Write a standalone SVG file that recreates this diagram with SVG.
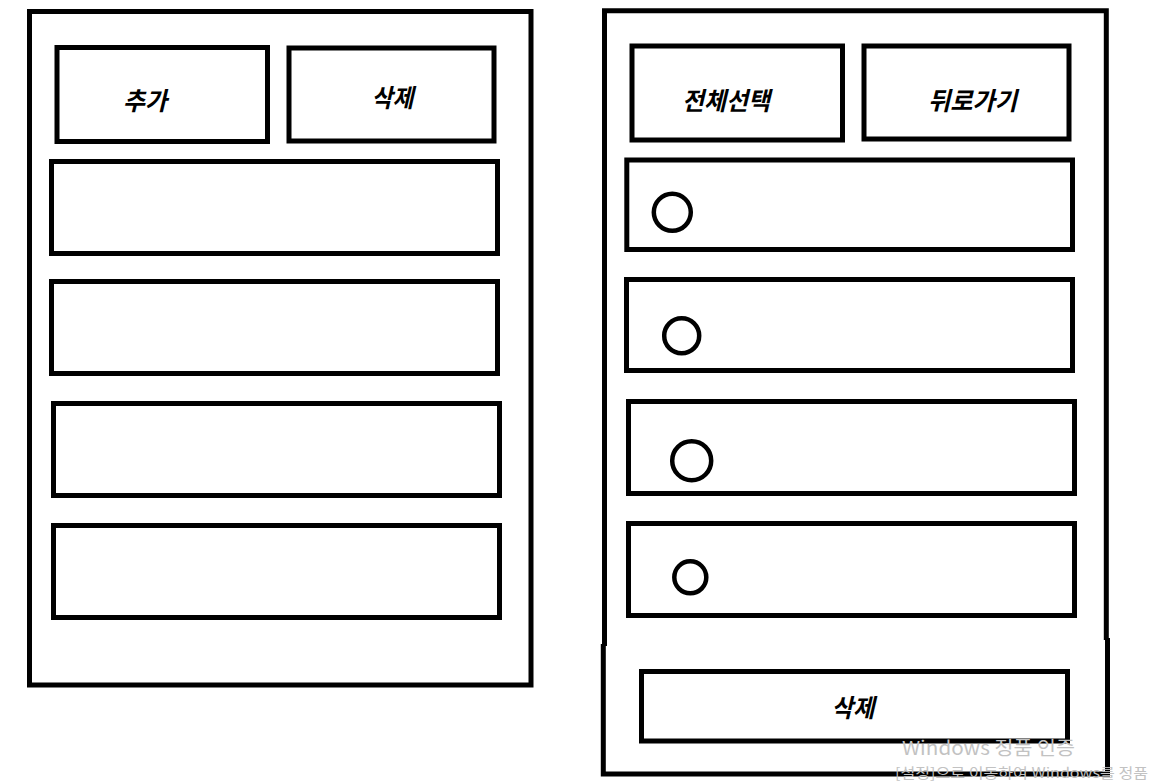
<svg xmlns="http://www.w3.org/2000/svg" width="1150" height="782" viewBox="0 0 1150 782">
<style>
.box{fill:none;stroke:#000;stroke-width:5}
.chk{fill:none;stroke:#000;stroke-width:4.5}
.lbl{font-family:"Noto Sans CJK KR","Noto Sans",sans-serif;font-size:25px;font-weight:bold;font-style:italic;fill:#000;text-anchor:middle}
.wm{font-family:"Noto Sans CJK KR","Noto Sans",sans-serif;fill:#c2c2c2}
</style>
<rect width="1150" height="782" fill="#fff"/>
<g id="screen-list">
  <rect class="box" x="29.5" y="11.5" width="501.5" height="673.5"/>
  <g id="btn-add">
    <rect class="box" x="57" y="47.5" width="210.5" height="94"/>
    <text class="lbl" x="145" y="110" textLength="44" lengthAdjust="spacingAndGlyphs">추가</text>
  </g>
  <g id="btn-delete-left">
    <rect class="box" x="289" y="48" width="205" height="93"/>
    <text class="lbl" x="392.5" y="106.5" textLength="42" lengthAdjust="spacingAndGlyphs">삭제</text>
  </g>
  <g id="left-row1"><rect class="box" x="51.5" y="161.5" width="446" height="92"/></g>
  <g id="left-row2"><rect class="box" x="51.5" y="281.5" width="446" height="92"/></g>
  <g id="left-row3"><rect class="box" x="53.5" y="403.5" width="446" height="92"/></g>
  <g id="left-row4"><rect class="box" x="53.5" y="525.5" width="446" height="92"/></g>
</g>
<g id="screen-select">
  <path class="box" d="M604.5 637 V10.8 H1106.3 V640"/>
  <path class="box" d="M604.5 634 V646 M603.3 644 V774 H1107.5 V638"/>
  <g id="btn-select-all">
    <rect class="box" x="632" y="46" width="210.5" height="94"/>
    <text class="lbl" x="726" y="110" textLength="88" lengthAdjust="spacingAndGlyphs">전체선택</text>
  </g>
  <g id="btn-back">
    <rect class="box" x="864" y="46" width="205" height="93"/>
    <text class="lbl" x="972.5" y="110" textLength="89" lengthAdjust="spacingAndGlyphs">뒤로가기</text>
  </g>
  <g id="right-row1">
    <rect class="box" x="626.8" y="160" width="445.7" height="89.5"/>
    <circle class="chk" cx="672.3" cy="212.3" r="18.5"/>
  </g>
  <g id="right-row2">
    <rect class="box" x="626.5" y="279.5" width="446" height="91"/>
    <circle class="chk" cx="681.7" cy="335.7" r="17.5"/>
  </g>
  <g id="right-row3">
    <rect class="box" x="628.5" y="401.5" width="446" height="92"/>
    <circle class="chk" cx="691.7" cy="460.7" r="19.5"/>
  </g>
  <g id="right-row4">
    <rect class="box" x="628.5" y="523.5" width="446" height="92"/>
    <circle class="chk" cx="690.3" cy="577.3" r="16"/>
  </g>
  <g id="btn-delete-bottom">
    <rect class="box" x="641.5" y="671.5" width="426" height="69.5"/>
    <text class="lbl" x="853" y="716.5" textLength="43" lengthAdjust="spacingAndGlyphs">삭제</text>
  </g>
</g>
<g id="watermark">
  <text class="wm" x="902" y="755" font-size="19" textLength="173" lengthAdjust="spacingAndGlyphs">Windows 정품 인증</text>
  <text class="wm" x="895" y="778" font-size="14" textLength="253" lengthAdjust="spacingAndGlyphs">[설정]으로 이동하여 Windows를 정품</text>
</g>
</svg>
